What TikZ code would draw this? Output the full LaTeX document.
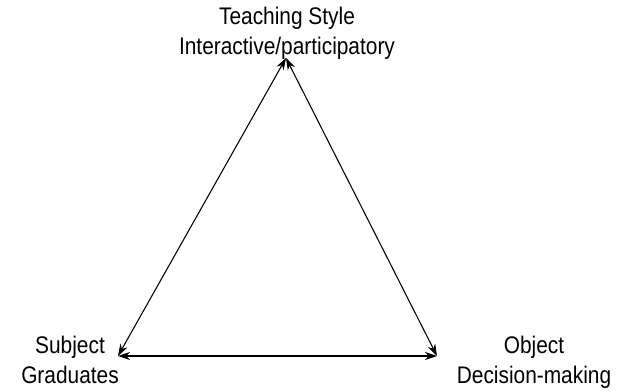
\documentclass[tikz,border=0pt]{standalone}
\usepackage{fontspec}
\setmainfont{Liberation Sans}
\newfontfamily\labfont[FakeStretch=0.87]{Liberation Sans}
\usetikzlibrary{arrows.meta}

\begin{document}
\begin{tikzpicture}[x=0.75pt,y=-0.75pt,
  lab/.style={align=center,font=\labfont\fontsize{18}{22.5}\selectfont},
  side/.style={{Stealth[length=9pt,width=6pt]}-{Stealth[length=9pt,width=6pt]},line width=0.8pt}]
\useasboundingbox (0,0) rectangle (628,392);

% vertici
\coordinate (top) at (286,58);
\coordinate (left) at (118,356);
\coordinate (right) at (437,356);

% etichette
\node[lab] (style) at (287,33) {Teaching Style\\Interactive/participatory};
\node[lab] (subject) at (70,360) {Subject\\Graduates};
\node[lab] (object) at (534,362) {Object\\Decision-making};

% lati
\draw[side] (left) -- (top);
\draw[side] (top) -- (right);
\draw[side] (left) -- (right);

\end{tikzpicture}
\end{document}
